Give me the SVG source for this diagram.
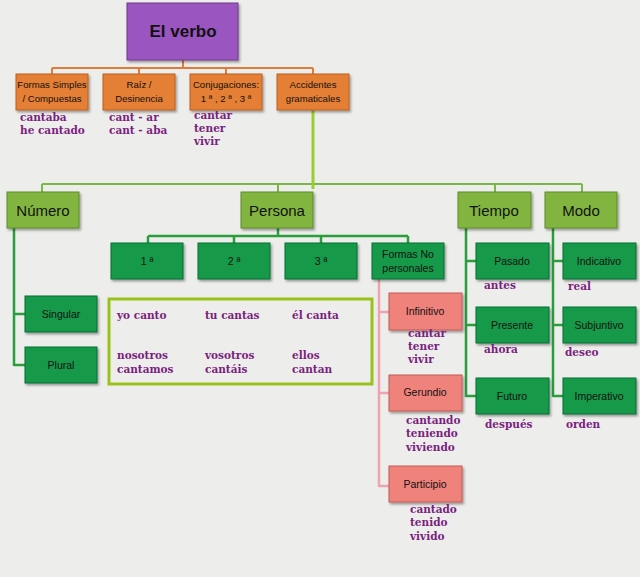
<svg xmlns="http://www.w3.org/2000/svg" width="640" height="577" viewBox="0 0 640 577">
<defs>
<filter id="sh" x="-10%" y="-10%" width="130%" height="140%">
<feDropShadow dx="1.5" dy="2" stdDeviation="1.2" flood-color="#000" flood-opacity="0.35"/>
</filter>
<style>
.lbl{font-family:"Liberation Sans","Noto Sans",sans-serif;fill:#111;text-anchor:middle}
.ex{font-family:"DejaVu Serif","Liberation Serif",serif;font-weight:bold;font-size:10.5px;fill:#7a1f7e}
.purple{fill:#9b55c0;stroke:#6a3a88;stroke-width:1}
.orange{fill:#e57f35;stroke:#b8601f;stroke-width:1}
.lime{fill:#82b53f;stroke:#5d8a2a;stroke-width:1}
.dg{fill:#17994a;stroke:#0d6e33;stroke-width:1}
.pink{fill:#f0827c;stroke:#c25a55;stroke-width:1}
.c-or{stroke:#e07b39;stroke-width:2;fill:none}
.c-lime{stroke:#7ab648;stroke-width:2;fill:none}
.c-dg{stroke:#2a9e3c;stroke-width:2.5;fill:none}
.c-pk{stroke:#eea2b2;stroke-width:2.5;fill:none}
</style>
</defs>
<rect width="640" height="577" fill="#ededeb"/>

<g id="connectors">
<path class="c-or" d="M183 60V68M52 68H313M52 68V74M139 68V74M226 68V74M313 68V74"/>
<path class="c-lime" d="M42 184H582M42 184V192M278 184V192M495 184V192M582 184V192"/>
<path stroke="#9acd32" stroke-width="3" fill="none" d="M313 110V189"/>
<path class="c-dg" d="M278 228V236M148 236H408M148 236V243M234 236V243M321 236V243M408 236V243"/>
<path class="c-dg" d="M14 228V366M14 314H25M14 365H25"/>
<path class="c-dg" d="M466 228V397M466 261H476M466 325H476M466 396H476"/>
<path class="c-dg" d="M553 228V397M553 261H563M553 325H563M553 396H563"/>
<path class="c-pk" d="M379 279V487M379 312H389M379 393H389M379 486H389"/>
</g>

<g id="n-verbo"><rect class="purple" x="127" y="3" width="111" height="57" filter="url(#sh)"/><text class="lbl" x="183" y="37" font-size="17" font-weight="bold">El verbo</text></g>

<g id="n-formas"><rect class="orange" x="16" y="74" width="72" height="36" filter="url(#sh)"/><text class="lbl" x="52" y="88" font-size="9.6">Formas Simples</text><text class="lbl" x="52" y="102" font-size="9.6">/ Compuestas</text></g>
<g id="n-raiz"><rect class="orange" x="103" y="74" width="72" height="36" filter="url(#sh)"/><text class="lbl" x="139" y="88" font-size="9.6">Raíz /</text><text class="lbl" x="139" y="102" font-size="9.6">Desinencia</text></g>
<g id="n-conj"><rect class="orange" x="190" y="74" width="72" height="36" filter="url(#sh)"/><text class="lbl" x="226" y="88" font-size="9.6">Conjugaciones:</text><text class="lbl" x="226" y="102" font-size="9.6">1 ª , 2 ª , 3 ª</text></g>
<g id="n-acc"><rect class="orange" x="277" y="74" width="72" height="36" filter="url(#sh)"/><text class="lbl" x="313" y="88" font-size="9.6">Accidentes</text><text class="lbl" x="313" y="102" font-size="9.6">gramaticales</text></g>

<g id="ex-top">
<text class="ex" x="20" y="121">cantaba</text><text class="ex" x="20" y="134">he cantado</text>
<text class="ex" x="109" y="121">cant - ar</text><text class="ex" x="109" y="134">cant - aba</text>
<text class="ex" x="194" y="119">cantar</text><text class="ex" x="194" y="132">tener</text><text class="ex" x="194" y="145">vivir</text>
</g>

<g id="n-numero"><rect class="lime" x="7" y="192" width="72" height="36" filter="url(#sh)"/><text class="lbl" x="43" y="216" font-size="15">Número</text></g>
<g id="n-persona"><rect class="lime" x="241" y="192" width="72" height="36" filter="url(#sh)"/><text class="lbl" x="277" y="216" font-size="15">Persona</text></g>
<g id="n-tiempo"><rect class="lime" x="458" y="192" width="73" height="36" filter="url(#sh)"/><text class="lbl" x="494" y="216" font-size="15">Tiempo</text></g>
<g id="n-modo"><rect class="lime" x="545" y="192" width="72" height="36" filter="url(#sh)"/><text class="lbl" x="581" y="216" font-size="15">Modo</text></g>

<g id="n-p1"><rect class="dg" x="111" y="243" width="72" height="36" filter="url(#sh)"/><text class="lbl" x="147" y="265" font-size="10.5">1 ª</text></g>
<g id="n-p2"><rect class="dg" x="198" y="243" width="72" height="36" filter="url(#sh)"/><text class="lbl" x="234" y="265" font-size="10.5">2 ª</text></g>
<g id="n-p3"><rect class="dg" x="285" y="243" width="72" height="36" filter="url(#sh)"/><text class="lbl" x="321" y="265" font-size="10.5">3 ª</text></g>
<g id="n-fnp"><rect class="dg" x="372" y="243" width="72" height="36" filter="url(#sh)"/><text class="lbl" x="408" y="258" font-size="10.5">Formas No</text><text class="lbl" x="408" y="272" font-size="10.5">personales</text></g>

<g id="n-singular"><rect class="dg" x="25" y="296" width="72" height="36" filter="url(#sh)"/><text class="lbl" x="61" y="318" font-size="10.5">Singular</text></g>
<g id="n-plural"><rect class="dg" x="25" y="347" width="72" height="36" filter="url(#sh)"/><text class="lbl" x="61" y="369" font-size="10.5">Plural</text></g>

<g id="n-ejemplos">
<rect x="109" y="299" width="263" height="85" fill="none" stroke="#99c31c" stroke-width="3"/>
<text class="ex" x="117" y="319">yo canto</text><text class="ex" x="205" y="319">tu cantas</text><text class="ex" x="292" y="319">él canta</text>
<text class="ex" x="117" y="359">nosotros</text><text class="ex" x="205" y="359">vosotros</text><text class="ex" x="292" y="359">ellos</text>
<text class="ex" x="117" y="373">cantamos</text><text class="ex" x="205" y="373">cantáis</text><text class="ex" x="292" y="373">cantan</text>
</g>

<g id="n-inf"><rect class="pink" x="389" y="293" width="73" height="37" filter="url(#sh)"/><text class="lbl" x="425" y="315" font-size="10.5">Infinitivo</text></g>
<g id="n-ger"><rect class="pink" x="389" y="375" width="73" height="36" filter="url(#sh)"/><text class="lbl" x="425" y="396" font-size="10.5">Gerundio</text></g>
<g id="n-par"><rect class="pink" x="389" y="466" width="73" height="36" filter="url(#sh)"/><text class="lbl" x="425" y="488" font-size="10.5">Participio</text></g>

<g id="ex-fnp">
<text class="ex" x="408" y="337">cantar</text><text class="ex" x="408" y="350">tener</text><text class="ex" x="408" y="363">vivir</text>
<text class="ex" x="406" y="424">cantando</text><text class="ex" x="406" y="437">teniendo</text><text class="ex" x="406" y="451">viviendo</text>
<text class="ex" x="410" y="513">cantado</text><text class="ex" x="410" y="526">tenido</text><text class="ex" x="410" y="540">vivido</text>
</g>

<g id="n-pasado"><rect class="dg" x="476" y="243" width="73" height="36" filter="url(#sh)"/><text class="lbl" x="512" y="265" font-size="10.5">Pasado</text></g>
<g id="n-presente"><rect class="dg" x="476" y="307" width="73" height="36" filter="url(#sh)"/><text class="lbl" x="512" y="329" font-size="10.5">Presente</text></g>
<g id="n-futuro"><rect class="dg" x="476" y="378" width="73" height="36" filter="url(#sh)"/><text class="lbl" x="512" y="400" font-size="10.5">Futuro</text></g>
<g id="n-indic"><rect class="dg" x="563" y="243" width="73" height="36" filter="url(#sh)"/><text class="lbl" x="599" y="265" font-size="10.5">Indicativo</text></g>
<g id="n-subj"><rect class="dg" x="563" y="307" width="73" height="36" filter="url(#sh)"/><text class="lbl" x="599" y="329" font-size="10.5">Subjuntivo</text></g>
<g id="n-imper"><rect class="dg" x="563" y="378" width="73" height="36" filter="url(#sh)"/><text class="lbl" x="599" y="400" font-size="10.5">Imperativo</text></g>

<g id="ex-tm">
<text class="ex" x="484" y="289">antes</text><text class="ex" x="484" y="353">ahora</text><text class="ex" x="485" y="428">después</text>
<text class="ex" x="568" y="290">real</text><text class="ex" x="565" y="356">deseo</text><text class="ex" x="566" y="428">orden</text>
</g>
</svg>
